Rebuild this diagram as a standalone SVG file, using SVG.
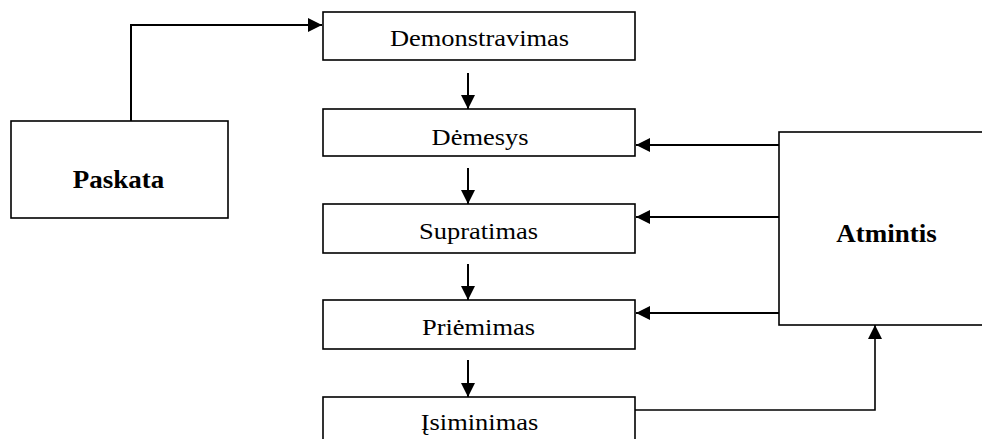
<svg xmlns="http://www.w3.org/2000/svg" width="982" height="439" viewBox="0 0 982 439">
  <style>
    .box { fill: #ffffff; stroke: #000000; stroke-width: 1.6; }
    text { font-family: 'Liberation Serif', 'Times New Roman', Times, serif; fill: #000000; text-anchor: middle; }
    .lbl { font-size: 23px; }
    .bold { font-size: 25px; font-weight: bold; }
    .wire { fill: none; stroke: #000000; stroke-width: 2; }
    .wire.thin { stroke-width: 1.6; }
  </style>
  <defs>
    <marker id="head" markerUnits="userSpaceOnUse" markerWidth="14" markerHeight="14" viewBox="0 0 14 14" refX="14" refY="7" orient="auto">
      <path d="M0,0 L14,7 L0,14 Z" fill="#000000"/>
    </marker>
  </defs>
  <rect width="982" height="439" fill="#ffffff"/>

  <g id="paskata">
    <rect class="box" x="11" y="121" width="217" height="97"/>
    <text class="bold" transform="translate(118.5,188) scale(1.08,1)">Paskata</text>
  </g>

  <g id="demonstravimas">
    <rect class="box" x="323" y="12" width="312" height="48"/>
    <text class="lbl" transform="translate(479.5,46) scale(1.15,1)">Demonstravimas</text>
  </g>

  <g id="demesys">
    <rect class="box" x="323" y="109" width="312" height="47"/>
    <text class="lbl" transform="translate(480,145) scale(1.15,1)">Dėmesys</text>
  </g>

  <g id="supratimas">
    <rect class="box" x="323" y="204" width="312" height="49"/>
    <text class="lbl" transform="translate(478.5,239) scale(1.15,1)">Supratimas</text>
  </g>

  <g id="priemimas">
    <rect class="box" x="323" y="300" width="312" height="49"/>
    <text class="lbl" transform="translate(478.5,335) scale(1.15,1)">Priėmimas</text>
  </g>

  <g id="isiminimas">
    <rect class="box" x="323" y="397" width="312" height="60"/>
    <text class="lbl" transform="translate(479.5,430) scale(1.15,1)">Įsiminimas</text>
  </g>

  <g id="atmintis">
    <rect class="box" x="779" y="132" width="220" height="193"/>
    <text class="bold" transform="translate(886.5,242) scale(1.08,1)">Atmintis</text>
  </g>

  <g id="connectors">
    <path class="wire" d="M131,121 V25 H322" marker-end="url(#head)"/>
    <path class="wire" d="M468,73 V109" marker-end="url(#head)"/>
    <path class="wire" d="M468,168 V204" marker-end="url(#head)"/>
    <path class="wire" d="M468,264 V300" marker-end="url(#head)"/>
    <path class="wire" d="M468,360 V397" marker-end="url(#head)"/>
    <path class="wire" d="M779,145 H636" marker-end="url(#head)"/>
    <path class="wire" d="M779,217 H636" marker-end="url(#head)"/>
    <path class="wire" d="M779,313 H636" marker-end="url(#head)"/>
    <path class="wire thin" d="M635,410 H875 V325" marker-end="url(#head)"/>
  </g>
</svg>
